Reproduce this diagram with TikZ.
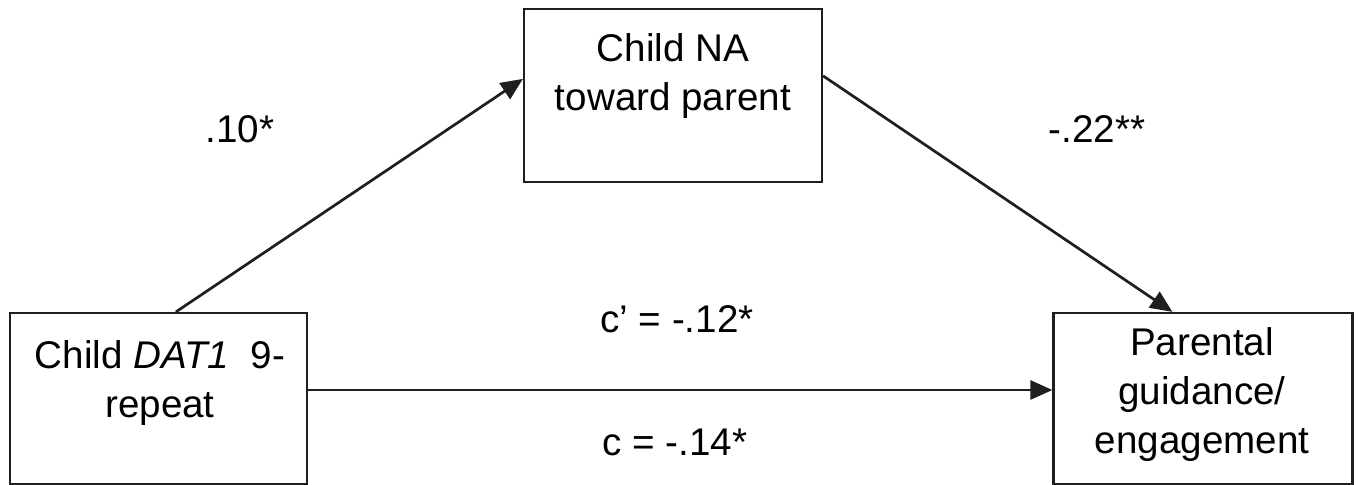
\documentclass[tikz,border=0pt]{standalone}
\usepackage{fontspec}
\setmainfont{Liberation Sans}
\usetikzlibrary{arrows.meta}
\begin{document}
\begin{tikzpicture}[x=0.5pt,y=-0.5pt,
  box/.style={draw=black!88, line width=1.1pt, fill=white, inner sep=0pt},
  boxtext/.style={inner sep=0pt, align=center, font=\fontsize{19.3}{24.5}\selectfont, anchor=north},
  coef/.style={inner sep=0pt, font=\fontsize{19.3}{23}\selectfont, anchor=base},
  path/.style={draw=black!88, line width=1.35pt, -{Triangle[length=11pt,width=9.5pt]}}]
\useasboundingbox (0,0) rectangle (1358,485);
\fill[white] (0,0) rectangle (1358,485);
\node[box, minimum width=148.5pt, minimum height=85.5pt] (left) at (158.5,398.5) {};
\node[box, minimum width=149pt, minimum height=86.5pt] (top) at (673,95.5) {};
\node[box, minimum width=149.5pt, minimum height=85.5pt] (right) at (1203,398.5) {};
\node[boxtext] (lefttext) at (160,340) {Child \textit{DAT1}\ \ 9-\\repeat};
\node[boxtext] (toptext) at (673,33) {Child NA\\toward parent};
\node[boxtext] (righttext) at (1202,327) {Parental\\guidance/\\engagement};
\node[coef] (a) at (240,143) {.10*};
\node[coef] (b) at (1097,143) {-.22**};
\node[coef] (cp) at (677,333) {c’ = -.12*};
\node[coef] (c) at (675,455) {c = -.14*};
\draw[path] ([xshift=83.5pt]left.north west) -- ([yshift=-35.5pt]top.north west);
\draw[path] ([yshift=-34pt]top.north east) -- ([xshift=60pt]right.north west);
\draw[path] ([yshift=4.25pt]left.east) -- ([yshift=4.25pt]right.west);
\end{tikzpicture}
\end{document}
